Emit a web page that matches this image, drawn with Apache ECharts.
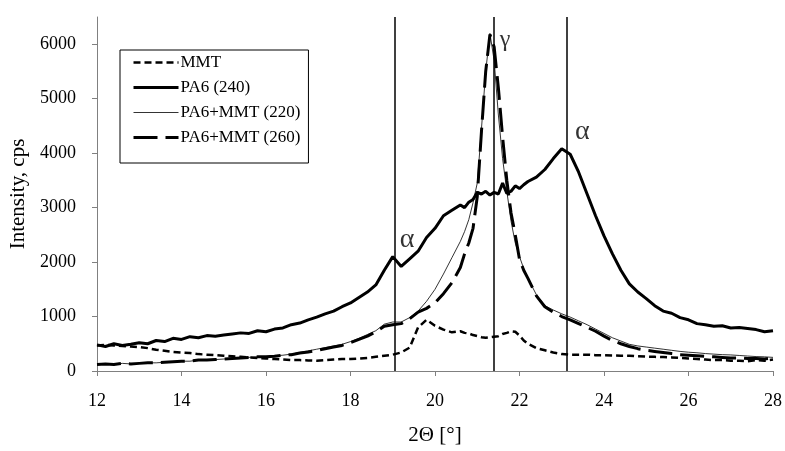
<!DOCTYPE html>
<html>
<head>
<meta charset="utf-8">
<script src="https://cdn.jsdelivr.net/npm/echarts@6/dist/echarts.min.js"></script>
<style>
  html, body { margin: 0; padding: 0; background: #fff; }
  #chart { width: 785px; height: 451px; }
</style>
</head>
<body>
<div id="chart"></div>
<script>
// 2Θ grid (finer around the γ peak)
const angles = [
  12.0, 12.2, 12.4, 12.6, 12.8, 13.0, 13.2, 13.4, 13.6, 13.8,
  14.0, 14.2, 14.4, 14.6, 14.8, 15.0, 15.2, 15.4, 15.6, 15.8,
  16.0, 16.2, 16.4, 16.6, 16.8, 17.0, 17.2, 17.4, 17.6, 17.8,
  18.0, 18.2, 18.4, 18.6, 18.8, 19.0, 19.2, 19.4, 19.6, 19.8,
  20.0, 20.2, 20.4, 20.6,
  20.7, 20.8, 20.9, 21.0, 21.1, 21.2, 21.3, 21.4, 21.5, 21.6,
  21.7, 21.8, 21.9, 22.0, 22.1, 22.2,
  22.4, 22.6, 22.8, 23.0, 23.2, 23.4, 23.6, 23.8, 24.0, 24.2,
  24.4, 24.6, 24.8, 25.0, 25.2, 25.4, 25.6, 25.8, 26.0, 26.2,
  26.4, 26.6, 26.8, 27.0, 27.2, 27.4, 27.6, 27.8, 28.0
];

const mmt = [
  470, 480, 470, 460, 450, 440, 420, 390, 370, 350,
  340, 330, 310, 300, 290, 280, 270, 260, 250, 240,
  230, 220, 210, 200, 200, 195, 190, 200, 210, 220,
  220, 230, 240, 260, 280, 300, 340, 430, 800, 940,
  830, 760, 710, 730,
  700, 690, 660, 640, 620, 610, 620, 630, 640, 680,
  700, 730, 720, 650, 560, 500,
  420, 380, 340, 310, 300, 300, 300, 290, 290, 285,
  280, 280, 270, 265, 260, 255, 250, 240, 230, 220,
  210, 200, 200, 190, 190, 180, 200, 190, 210
];

const pa6_240 = [
  480, 450, 500, 470, 490, 520, 500, 560, 540, 600,
  580, 630, 610, 650, 640, 660, 680, 700, 690, 740,
  720, 770, 790, 850, 880, 940, 990, 1050, 1100, 1180,
  1250, 1350, 1450, 1580, 1850, 2100, 1920, 2060, 2200, 2450,
  2620, 2850, 2950, 3050,
  3000, 3100, 3150, 3280, 3250, 3300, 3230, 3280, 3250, 3450,
  3260, 3300, 3400, 3350, 3420, 3480,
  3560, 3700, 3900, 4080, 3980, 3650, 3250, 2850, 2480, 2150,
  1850, 1600, 1450, 1330, 1200, 1100, 1060, 980, 940, 870,
  850, 820, 830, 790, 800, 780, 760, 720, 740
];

const pa6mmt_220 = [
  120, 130, 120, 140, 130, 140, 150, 150, 160, 170,
  180, 180, 200, 200, 210, 220, 230, 240, 250, 260,
  260, 280, 290, 310, 340, 370, 400, 430, 460, 490,
  540, 600, 670, 740, 860, 900, 900, 980, 1100, 1280,
  1500, 1780, 2080, 2380,
  2560, 2780, 3090, 3450, 4450, 5500, 6200, 5700, 4700, 3900,
  3300, 2750, 2350, 2100, 1880, 1700,
  1400, 1200, 1120, 1050, 990, 920, 850, 770, 690, 610,
  550, 490, 460, 440, 420, 400, 380, 360, 345, 335,
  320, 310, 300, 295, 285, 275, 265, 260, 250
];

const pa6mmt_260 = [
  120, 130, 120, 140, 130, 140, 150, 150, 160, 170,
  180, 180, 200, 200, 210, 220, 230, 240, 250, 260,
  260, 270, 290, 300, 330, 350, 380, 410, 440, 470,
  520, 580, 640, 720, 820, 850, 870, 960, 1080, 1150,
  1250, 1420, 1620, 1900,
  2150, 2350, 2620, 3200, 4400, 5500, 6180, 5950, 5200, 4300,
  3500, 2900, 2500, 2050, 1850, 1700,
  1380, 1180, 1080, 1000, 940, 870, 800, 730, 640, 560,
  500, 450, 410, 380, 360, 340, 320, 300, 290, 280,
  270, 260, 250, 240, 240, 230, 230, 220, 240
];

// reflection positions (vertical lines) and peak labels
const peakAngles = [19.04, 21.4, 23.12];
const annotText = ['α', 'γ', 'α'];
const annotAngle = [19.34, 21.66, 23.49];
const annotIntensity = [2420, 6090, 4400];

const seriesNames = ['MMT', 'PA6 (240)', 'PA6+MMT (220)', 'PA6+MMT (260)'];
const lineStyles = [
  { width: 2.5, type: [7, 4] },
  { width: 3, type: 'solid' },
  { width: 0.8, type: 'solid' },
  { width: 3, type: [24, 8] }
];

const pairs = (ys) => angles.map((a, i) => [a, ys[i]]);
const serif = 'Liberation Serif';

const chart = echarts.init(document.getElementById('chart'));
chart.setOption({
  animation: false,
  backgroundColor: '#fff',
  textStyle: { fontFamily: serif, color: '#000' },
  grid: { left: 97, right: 12, top: 17, bottom: 72 },
  legend: {
    orient: 'vertical',
    left: 120, top: 50,
    padding: [4, 8, 17, 12],
    itemWidth: 45, itemHeight: 10, itemGap: 8,
    borderColor: '#000', borderWidth: 1,
    itemStyle: { opacity: 0 },
    textStyle: { fontFamily: serif, fontSize: 17, color: '#000', padding: [0, 0, 0, -3] },
    data: seriesNames.map((n, i) => ({
      name: n,
      itemStyle: { opacity: 0 },
      lineStyle: { color: '#000', width: lineStyles[i].width, type: lineStyles[i].type }
    }))
  },
  xAxis: {
    type: 'value', min: 12, max: 28, interval: 2,
    name: '2Θ [°]', nameLocation: 'middle', nameGap: 54,
    nameTextStyle: { fontFamily: serif, fontSize: 21, color: '#000' },
    axisLine: { lineStyle: { color: '#808080', width: 1 } },
    axisTick: { show: true, length: 5, lineStyle: { color: '#808080' } },
    axisLabel: { fontFamily: serif, fontSize: 18, color: '#000', margin: 21 },
    splitLine: { show: false }
  },
  yAxis: {
    type: 'value', min: 0, max: 6500, interval: 1000,
    name: 'Intensity, cps', nameLocation: 'middle', nameGap: 68,
    nameTextStyle: { fontFamily: serif, fontSize: 21, color: '#000' },
    axisLine: { show: true, lineStyle: { color: '#808080', width: 1 } },
    axisTick: { show: true, length: 5, lineStyle: { color: '#808080' } },
    axisLabel: {
      fontFamily: serif, fontSize: 18, color: '#000', margin: 21, showMaxLabel: false,
      formatter: v => String(v)
    },
    splitLine: { show: false }
  },
  series: [
    {
      name: seriesNames[0], type: 'line', data: pairs(mmt),
      symbol: 'none', color: '#000', z: 3,
      lineStyle: Object.assign({ color: '#000' }, lineStyles[0])
    },
    {
      name: seriesNames[1], type: 'line', data: pairs(pa6_240),
      symbol: 'none', color: '#000', z: 4,
      lineStyle: Object.assign({ color: '#000' }, lineStyles[1]),
      markLine: {
        silent: true, symbol: 'none', animation: false,
        label: { show: false },
        lineStyle: { color: '#000', width: 1.5, type: 'solid' },
        data: peakAngles.map(a => ({ xAxis: a }))
      }
    },
    {
      name: seriesNames[2], type: 'line', data: pairs(pa6mmt_220),
      symbol: 'none', color: '#000', z: 5,
      lineStyle: Object.assign({ color: '#000' }, lineStyles[2])
    },
    {
      name: seriesNames[3], type: 'line', data: pairs(pa6mmt_260),
      symbol: 'none', color: '#000', z: 3,
      lineStyle: Object.assign({ color: '#000' }, lineStyles[3])
    },
    {
      name: 'labels', type: 'scatter', symbolSize: 0, silent: true,
      data: annotText.map((t, i) => ({
        name: t,
        value: [annotAngle[i], annotIntensity[i]],
        label: { fontSize: t === 'α' ? 28 : 24 }
      })),
      label: {
        show: true, position: 'inside', formatter: p => p.name,
        fontFamily: serif, color: '#000'
      }
    }
  ]
});
</script>
</body>
</html>
